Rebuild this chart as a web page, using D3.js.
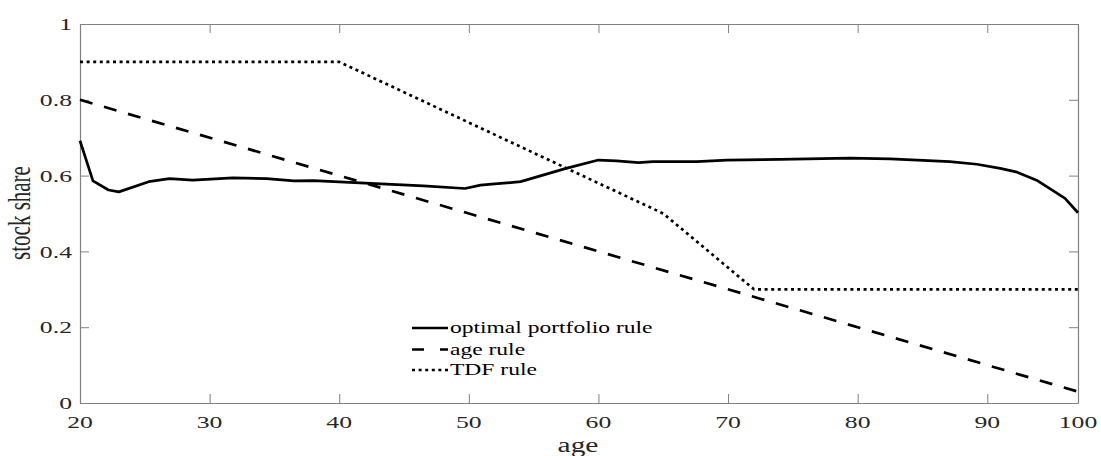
<!DOCTYPE html>
<html>
<head>
<meta charset="utf-8">
<script src="https://cdn.jsdelivr.net/npm/d3@7"></script>
<style>
  html, body { margin: 0; padding: 0; background: #fff; }
  svg { display: block; }
  text { font-family: "Liberation Serif", "Times New Roman", serif; fill: #262626; }
</style>
</head>
<body>
<svg id="chart" width="1101" height="456"></svg>
<script>
// ---- data ----
const optimalAges = [20, 21, 22.2, 23, 25.3, 26.9, 28.7, 31.8, 34.4, 36.5, 38, 41.6, 46.5, 49.7, 50.9, 52, 54, 57.5, 60, 61.4, 63.1, 64.2, 67.6, 69.9, 74, 79.4, 82.5, 84.6, 87.1, 89.2, 91, 92.3, 93.8, 94.8, 96, 97];
const optimalShare = [0.692, 0.586, 0.562, 0.557, 0.584, 0.592, 0.588, 0.594, 0.592, 0.586, 0.587, 0.581, 0.573, 0.566, 0.575, 0.578, 0.584, 0.619, 0.641, 0.639, 0.634, 0.637, 0.637, 0.641, 0.643, 0.646, 0.644, 0.641, 0.637, 0.630, 0.619, 0.609, 0.588, 0.566, 0.540, 0.502];
const ageRuleAges = [20, 97];
const ageRuleShare = [0.80, 0.03];
const tdfAges = [20, 40, 65, 72, 97];
const tdfShare = [0.90, 0.90, 0.50, 0.30, 0.30];
const xTickValues = [20, 30, 40, 50, 60, 70, 80, 90, 97];
const xTickLabels = ["20", "30", "40", "50", "60", "70", "80", "90", "100"];
const yTickValues = [0, 0.2, 0.4, 0.6, 0.8, 1];
const yTickLabels = ["0", "0.2", "0.4", "0.6", "0.8", "1"];
const seriesNames = ["optimal portfolio rule", "age rule", "TDF rule"];

// ---- layout ----
const L = 80, R = 1078, T = 24, B = 403;
const stretch = 1.47;
const svg = d3.select("#chart");
const x = d3.scaleLinear().domain([20, 97]).range([L, R]);
const y = d3.scaleLinear().domain([0, 1]).range([B, T]);
const axisColor = "#808080";

// axes (box with inward ticks on all sides)
const xb = svg.append("g").attr("transform", `translate(0,${B})`)
  .call(d3.axisBottom(x).tickValues(xTickValues).tickSizeInner(-9).tickSizeOuter(0).tickFormat(""));
const xt = svg.append("g").attr("transform", `translate(0,${T})`)
  .call(d3.axisTop(x).tickValues(xTickValues).tickSizeInner(-9).tickSizeOuter(0).tickFormat(""));
const yl = svg.append("g").attr("transform", `translate(${L},0)`)
  .call(d3.axisLeft(y).tickValues(yTickValues).tickSizeInner(-9).tickSizeOuter(0).tickFormat(""));
const yr = svg.append("g").attr("transform", `translate(${R},0)`)
  .call(d3.axisRight(y).tickValues(yTickValues).tickSizeInner(-9).tickSizeOuter(0).tickFormat(""));
[xb, xt, yl, yr].forEach(g => {
  g.selectAll("path.domain").attr("stroke", axisColor).attr("stroke-width", 1.2);
  g.selectAll(".tick line").attr("stroke", axisColor).attr("stroke-width", 1);
});

// tick labels (horizontally stretched serif text)
xTickValues.forEach((v, i) => {
  svg.append("g").attr("transform", `translate(${x(v)},428) scale(${stretch},1)`)
    .append("text").attr("text-anchor", "middle").attr("font-size", 17.5).text(xTickLabels[i]);
});
yTickValues.forEach((v, i) => {
  svg.append("g").attr("transform", `translate(${L - 8},${y(v)}) scale(${stretch},1)`)
    .append("text").attr("text-anchor", "end").attr("dy", "0.35em").attr("font-size", 17.5).text(yTickLabels[i]);
});

// axis titles
svg.append("g").attr("transform", `translate(578,452) scale(${stretch},1)`)
  .append("text").attr("text-anchor", "middle").attr("font-size", 20).text("age");
svg.append("g").attr("transform", `translate(30,213) scale(${stretch},1) rotate(-90)`)
  .append("text").attr("text-anchor", "middle").attr("font-size", 21).text("stock share");

// lines
const line = d3.line().x(d => x(d[0])).y(d => y(d[1]));
const styles = [
  { dash: null },
  { dash: "13,12" },
  { dash: "3,3.6" }
];
const series = [
  d3.zip(optimalAges, optimalShare),
  d3.zip(ageRuleAges, ageRuleShare),
  d3.zip(tdfAges, tdfShare)
];
series.forEach((s, i) => {
  svg.append("path").datum(s).attr("d", line)
    .attr("fill", "none").attr("stroke", "#000").attr("stroke-width", 2.7)
    .attr("stroke-linejoin", "round")
    .attr("stroke-dasharray", styles[i].dash);
});

// legend
const legY = [328, 349.5, 370];
const legDash = [null, "12,16", "3,3.6"];
seriesNames.forEach((name, i) => {
  svg.append("line").attr("x1", 412).attr("x2", 448).attr("y1", legY[i]).attr("y2", legY[i])
    .attr("stroke", "#000").attr("stroke-width", 2.7).attr("stroke-dasharray", legDash[i]);
  svg.append("g").attr("transform", `translate(450,${legY[i]}) scale(${stretch},1)`)
    .append("text").attr("dy", "0.32em").attr("font-size", 16).style("fill", "#000").text(name);
});
</script>
</body>
</html>
